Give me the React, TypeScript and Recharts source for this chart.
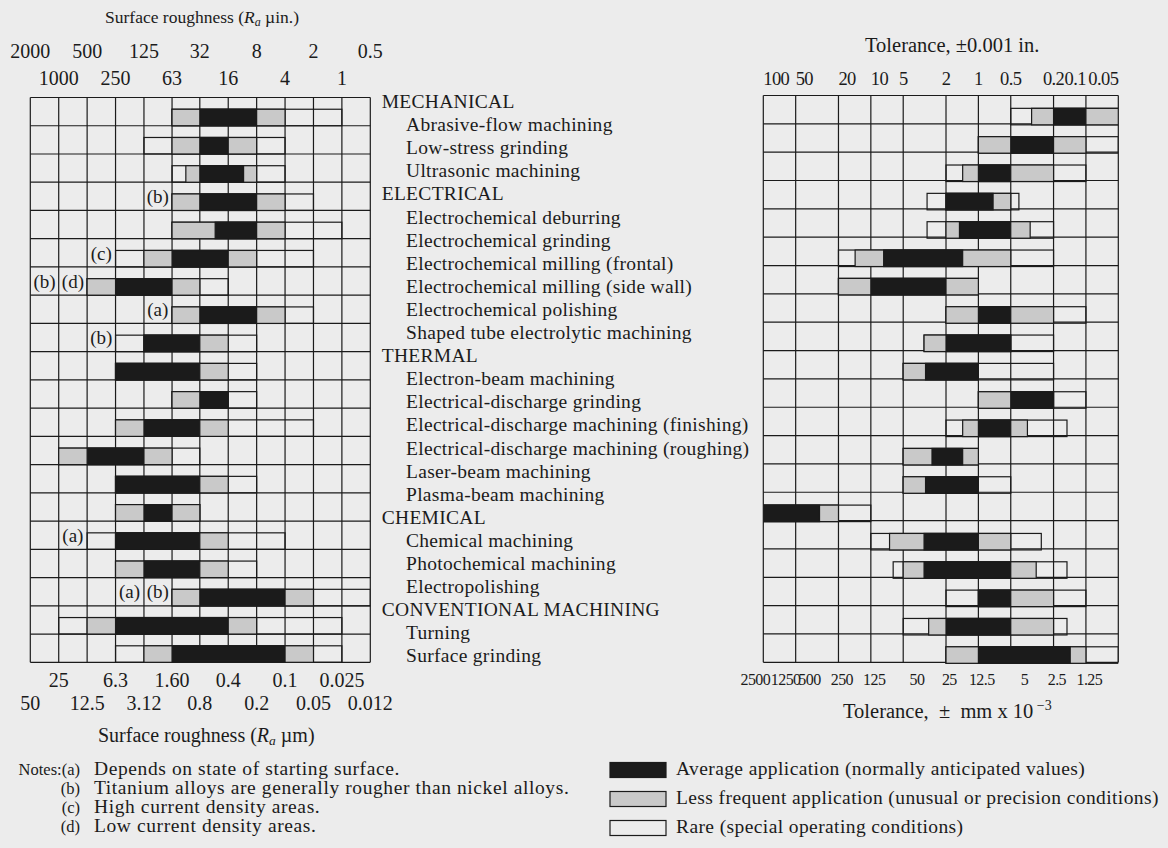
import { Bar, BarChart, CartesianGrid, ReferenceDot, XAxis, YAxis } from "recharts";

type Range = [number, number];

const SERIF = '"Liberation Serif", "Times New Roman", serif';
const PAPER = "#ececec";
const INK = "#1b1b1b";
const SHADE = "#c9c9c9";

const groups = ["MECHANICAL", "ELECTRICAL", "THERMAL", "CHEMICAL", "CONVENTIONAL MACHINING"];
const groupSizes = [3, 6, 6, 3, 2];
const processes = [
  "Abrasive-flow machining",
  "Low-stress grinding",
  "Ultrasonic machining",
  "Electrochemical deburring",
  "Electrochemical grinding",
  "Electrochemical milling (frontal)",
  "Electrochemical milling (side wall)",
  "Electrochemical polishing",
  "Shaped tube electrolytic machining",
  "Electron-beam machining",
  "Electrical-discharge grinding",
  "Electrical-discharge machining (finishing)",
  "Electrical-discharge machining (roughing)",
  "Laser-beam machining",
  "Plasma-beam machining",
  "Chemical machining",
  "Photochemical machining",
  "Electropolishing",
  "Turning",
  "Surface grinding",
];

// Surface roughness, Ra µin. — [rough end, fine end]
const roughRare: Range[] = [
  [63, 1], [125, 4], [63, 4], [63, 2], [63, 1], [250, 2], [500, 16], [63, 2], [250, 8], [250, 8],
  [63, 8], [250, 2], [1000, 32], [250, 8], [250, 32], [500, 4], [250, 8], [63, 0.5], [1000, 1], [250, 1],
];
const roughLess: Range[] = [
  [63, 4], [63, 8], [45, 8], [63, 4], [63, 4], [125, 8], [500, 32], [63, 4], [125, 16], [250, 16],
  [63, 16], [250, 16], [1000, 63], [250, 16], [250, 32], [250, 16], [250, 16], [63, 2], [500, 8], [125, 2],
];
const roughAvg: Range[] = [
  [32, 8], [32, 16], [32, 11], [32, 8], [22, 8], [63, 16], [250, 63], [32, 8], [125, 32], [250, 32],
  [32, 16], [125, 32], [500, 125], [250, 32], [125, 63], [250, 32], [125, 32], [32, 4], [250, 16], [63, 4],
];
const roughNotes: string[][] = [
  [], [], [], ["(b)"], [], ["(c)"], ["(b)", "(d)"], ["(a)"], ["(b)"], [],
  [], [], [], [], [], ["(a)"], [], ["(a)", "(b)"], [], [],
];

// Tolerance, ±0.001 in. — [loose end, tight end]
const tolRare: Range[] = [
  [0.5, 0.05], [1, 0.05], [2, 0.1], [3, 0.42], [3, 0.2], [20, 0.2], [20, 1], [2, 0.1], [3.2, 0.2], [5, 0.2],
  [1, 0.1], [2, 0.15], [5, 1], [5, 0.5], [100, 10], [10, 0.26], [6.2, 0.15], [2, 0.1], [5, 0.15], [2, 0.05],
];
const tolLess: Range[] = [
  [0.32, 0.05], [1, 0.1], [1.4, 0.2], [2, 0.5], [2, 0.33], [14, 0.5], [20, 1], [2, 0.2], [3.2, 0.5], [5, 1],
  [1, 0.2], [1.4, 0.35], [5, 1], [5, 1], [100, 20], [6.7, 0.5], [5, 0.29], [1, 0.2], [2.9, 0.2], [2, 0.1],
];
const tolAvg: Range[] = [
  [0.2, 0.1], [0.5, 0.2], [1, 0.5], [2, 0.73], [1.5, 0.5], [7.6, 1.4], [10, 2], [1, 0.5], [2, 0.5], [3.1, 1],
  [0.5, 0.2], [1, 0.5], [2.7, 1.4], [3.1, 1], [100, 30], [3.2, 1], [3.2, 0.5], [1, 0.5], [2, 0.5], [1, 0.14],
];

const roughTicksUin = [2000, 1000, 500, 250, 125, 63, 32, 16, 8, 4, 2, 1, 0.5];
const roughTicksUm = ["50", "25", "12.5", "6.3", "3.12", "1.60", "0.8", "0.4", "0.2", "0.1", "0.05", "0.025", "0.012"];
const tolTicksIn = [100, 50, 20, 10, 5, 2, 1, 0.5, 0.2, 0.1, 0.05];
const tolTicksMm = ["2500", "1250", "500", "250", "125", "50", "25", "12.5", "5", "2.5", "1.25"];

const noteKeys = ["(a)", "(b)", "(c)", "(d)"];
const noteTexts = [
  "Depends on state of starting surface.",
  "Titanium alloys are generally rougher than nickel alloys.",
  "High current density areas.",
  "Low current density areas.",
];
const legendLabels = [
  "Average application (normally anticipated values)",
  "Less frequent application (unusual or precision conditions)",
  "Rare (special operating conditions)",
];

const CHART_H = 760;
const BAR_H = 16.5;

// builds a bar shape that sits at the bottom of its row
function cellShape(fill: string, rowH: number) {
  return (p: any) => {
    const x = Math.min(p.x, p.x + p.width);
    const w = Math.abs(p.width);
    if (!Number.isFinite(x) || !Number.isFinite(w)) return <g />;
    return (
      <rect
        x={x}
        y={p.y + rowH - BAR_H}
        width={w}
        height={BAR_H}
        fill={fill}
        stroke={INK}
        strokeWidth={1.2}
      />
    );
  };
}

const rowLines = (count: number, top: number, bottom: number) => (props: any) => {
  const o = props?.offset;
  const t = o ? o.top : top;
  const h = o ? o.height : bottom - top;
  return Array.from({ length: count + 1 }, (_, i) => t + (i * h) / count);
};

const tickText = {
  fill: INK,
  fontFamily: SERIF,
};

function Panel({
  left,
  width,
  plotLeft,
  plotRight,
  plotTop,
  plotBottom,
  domain,
  ticks,
  data,
  topTick,
  bottomTick,
  withNotes,
}: {
  left: number;
  width: number;
  plotLeft: number;
  plotRight: number;
  plotTop: number;
  plotBottom: number;
  domain: [number, number];
  ticks: number[];
  data: { name: string; rare: Range; less: Range; avg: Range; notes: string[] }[];
  topTick: (p: any) => any;
  bottomTick: (p: any) => any;
  withNotes: boolean;
}) {
  const rowH = (plotBottom - plotTop) / data.length;
  return (
    <div style={{ position: "absolute", left, top: 0 }}>
      <BarChart
        layout="vertical"
        width={width}
        height={CHART_H}
        data={data}
        margin={{ top: 0, right: width - (plotRight - left), bottom: 0, left: plotLeft - left }}
        barSize={rowH - 1}
        barGap={-(rowH - 1)}
        barCategoryGap={0}
      >
        <CartesianGrid
          stroke={INK}
          strokeWidth={1.2}
          strokeOpacity={1}
          horizontalCoordinatesGenerator={rowLines(data.length, plotTop, plotBottom)}
        />
        <XAxis
          orientation="top"
          type="number"
          scale="log"
          domain={domain}
          reversed
          allowDataOverflow
          ticks={ticks}
          interval={0}
          height={plotTop}
          axisLine={false}
          tickLine={false}
          tick={topTick}
        />
        <XAxis
          xAxisId="alt"
          orientation="bottom"
          type="number"
          scale="log"
          domain={domain}
          reversed
          allowDataOverflow
          ticks={ticks}
          interval={0}
          height={CHART_H - plotBottom}
          axisLine={false}
          tickLine={false}
          tick={bottomTick}
        />
        <YAxis type="category" dataKey="name" hide />
        <Bar dataKey="rare" shape={cellShape("none", rowH)} isAnimationActive={false} />
        <Bar dataKey="less" shape={cellShape(SHADE, rowH)} isAnimationActive={false} />
        <Bar dataKey="avg" shape={cellShape(INK, rowH)} isAnimationActive={false} />
        {withNotes
          ? data.flatMap((row) =>
              row.notes.map((n, j) => (
                <ReferenceDot
                  key={`${row.name}-${j}`}
                  x={row.rare[0] * Math.pow(2, row.notes.length - j - 0.5)}
                  y={row.name}
                  r={0}
                  fill="none"
                  stroke="none"
                  label={{ value: n, position: "center", fill: INK, fontSize: 19, fontFamily: SERIF }}
                />
              )),
            )
          : null}
      </BarChart>
    </div>
  );
}

const roughData = processes.map((name, i) => ({
  name,
  rare: roughRare[i],
  less: roughLess[i],
  avg: roughAvg[i],
  notes: roughNotes[i],
}));
const tolData = processes.map((name, i) => ({
  name,
  rare: tolRare[i],
  less: tolLess[i],
  avg: tolAvg[i],
  notes: [] as string[],
}));

const idx = (p: any, list: number[]) =>
  typeof p.index === "number" ? p.index : list.indexOf(p.payload?.value);

function RoughTop(p: any) {
  const i = idx(p, roughTicksUin);
  return (
    <text x={p.x} y={i % 2 === 0 ? 58 : 85} textAnchor="middle" fontSize={20} {...tickText}>
      {roughTicksUin[i]}
    </text>
  );
}
function RoughBottom(p: any) {
  const i = idx(p, roughTicksUin);
  return (
    <text x={p.x} y={i % 2 === 1 ? 687 : 710} textAnchor="middle" fontSize={20} {...tickText}>
      {roughTicksUm[i]}
    </text>
  );
}
function TolTop(p: any) {
  const i = idx(p, tolTicksIn);
  const anchor = i < 4 ? "start" : i > 8 ? "end" : "middle";
  return (
    <text x={p.x} y={85} textAnchor={anchor} fontSize={18.5} letterSpacing={-0.6} {...tickText}>
      {tolTicksIn[i]}
    </text>
  );
}
function TolBottom(p: any) {
  const i = idx(p, tolTicksIn);
  // the printed mm scale sits a little left of the grid lines
  const dx = i === 0 ? -8 : i === 1 ? -10 : -29;
  return (
    <text x={p.x} dx={dx} y={685} textAnchor="middle" fontSize={16} letterSpacing={-0.6} {...tickText}>
      {tolTicksMm[i]}
    </text>
  );
}

export default function App() {
  const labelRows: { text: string; header: boolean }[] = [];
  let k = 0;
  groups.forEach((g, gi) => {
    labelRows.push({ text: g, header: true });
    for (let j = 0; j < groupSizes[gi]; j++) labelRows.push({ text: processes[k++], header: false });
  });

  const legendFills = [INK, SHADE, PAPER];

  return (
    <div
      style={{
        position: "absolute",
        left: 0,
        top: 0,
        width: 1168,
        height: 848,
        background: PAPER,
        overflow: "hidden",
      }}
    >
      <Panel
        left={0}
        width={400}
        plotLeft={30.3}
        plotRight={370.3}
        plotTop={97.5}
        plotBottom={662.3}
        domain={[0.5, 2000]}
        ticks={roughTicksUin}
        data={roughData}
        topTick={(p: any) => <RoughTop {...p} />}
        bottomTick={(p: any) => <RoughBottom {...p} />}
        withNotes
      />
      <Panel
        left={700}
        width={468}
        plotLeft={763.3}
        plotRight={1118.3}
        plotTop={95.5}
        plotBottom={662.3}
        domain={[0.05, 100]}
        ticks={tolTicksIn}
        data={tolData}
        topTick={(p: any) => <TolTop {...p} />}
        bottomTick={(p: any) => <TolBottom {...p} />}
        withNotes={false}
      />
      <svg
        width={1168}
        height={848}
        style={{ position: "absolute", left: 0, top: 0, pointerEvents: "none" }}
        fontFamily={SERIF}
        fill={INK}
      >
        <text x={105} y={23} fontSize={17.5}>
          Surface roughness (<tspan fontStyle="italic">R</tspan>
          <tspan fontStyle="italic" fontSize={12} dy={3}>a</tspan>
          <tspan dy={-3}> µin.)</tspan>
        </text>
        <text x={98} y={742} fontSize={20}>
          Surface roughness (<tspan fontStyle="italic">R</tspan>
          <tspan fontStyle="italic" fontSize={13.5} dy={3}>a</tspan>
          <tspan dy={-3}> µm)</tspan>
        </text>
        <text x={865} y={52} fontSize={20.5}>
          Tolerance, ±0.001 in.
        </text>
        <text x={843} y={718} fontSize={20.5} xmlSpace="preserve">
          Tolerance,  ±  mm x 10
          <tspan fontSize={14} dy={-8}> −3</tspan>
        </text>

        {labelRows.map((r, i) => (
          <text
            key={i}
            x={r.header ? 381.7 : 406}
            y={108 + i * 23.1}
            fontSize={19.5}
            letterSpacing={0.3}
          >
            {r.text}
          </text>
        ))}

        {noteKeys.map((key, i) => (
          <g key={key}>
            <text x={80} y={775 + i * 19} fontSize={16.5} textAnchor="end">
              {i === 0 ? `Notes:${key}` : key}
            </text>
            <text x={94} y={775 + i * 19} fontSize={19.5} letterSpacing={0.6}>
              {noteTexts[i]}
            </text>
          </g>
        ))}

        {legendLabels.map((label, i) => (
          <g key={label}>
            <rect x={610} y={762.5 + i * 29} width={56} height={15} fill={legendFills[i]} stroke={INK} strokeWidth={1.2} />
            <text x={676} y={775 + i * 29} fontSize={19.5} letterSpacing={0.4}>
              {label}
            </text>
          </g>
        ))}
      </svg>
    </div>
  );
}
